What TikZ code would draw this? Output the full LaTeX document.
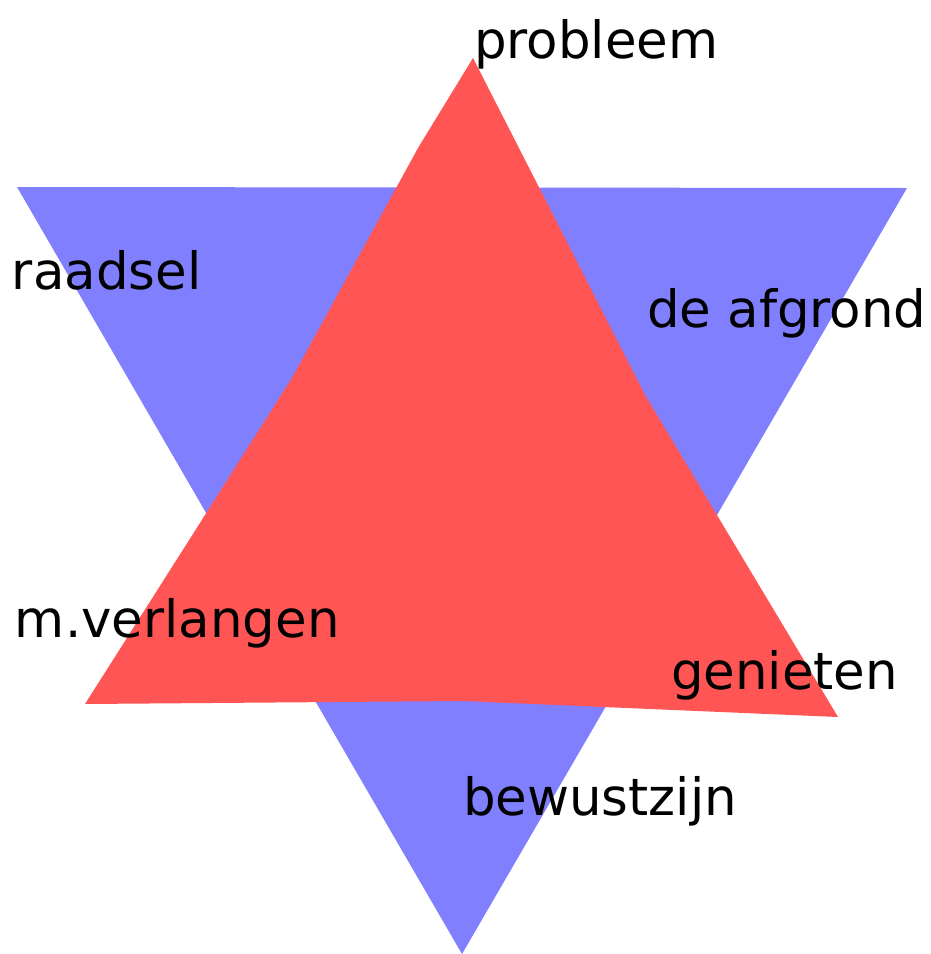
\documentclass[tikz,border=0pt]{standalone}
\usepackage{fontspec}
\setmainfont{DejaVu Sans}
\definecolor{tblue}{HTML}{8080FF}
\definecolor{tred}{HTML}{FF5555}
\begin{document}
\begin{tikzpicture}[x=1pt,y=-1pt,
  lbl/.style={anchor=base west,inner sep=0pt,outer sep=0pt,font=\fontsize{51.4}{60}\selectfont,text=black}]
\useasboundingbox (0,0) rectangle (930,954);
\fill[tblue] (17,187) -- (907,188) -- (462,954) -- cycle;
\fill[tred] (473,58) -- (418,148) -- (292,378) -- (85,704) -- (463,701) -- (838,717) -- (645,395) -- cycle;
\node[lbl] (probleem) at (474,58) {probleem};
\node[lbl] (raadsel) at (12,289) {raadsel};
\node[lbl] (afgrond) at (647,327) {de afgrond};
\node[lbl] (verlangen) at (15,637) {m.verlangen};
\node[lbl] (genieten) at (671,689) {genieten};
\node[lbl] (bewustzijn) at (463,815) {bewustzijn};
\end{tikzpicture}
\end{document}
